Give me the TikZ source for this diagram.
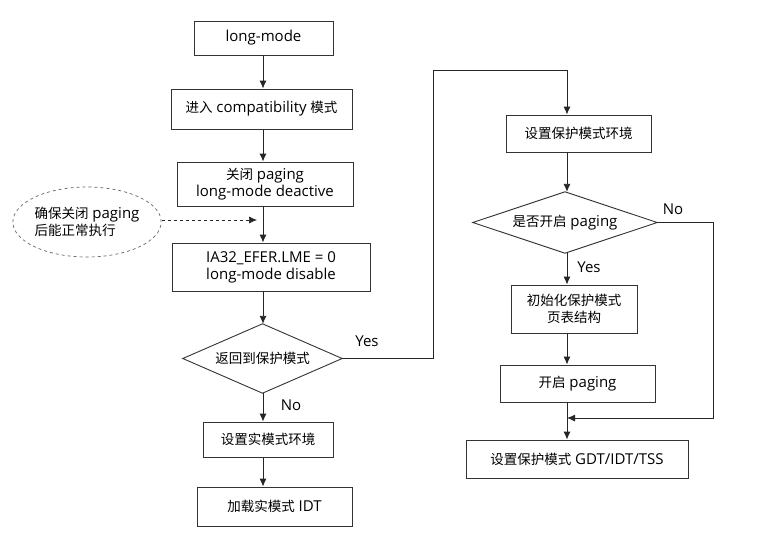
\documentclass[tikz,border=0pt]{standalone}
\usepackage{fontspec}
\setmainfont{Open Sans}
\newfontfamily\cjk{Noto Sans CJK SC}
\newcommand{\zh}[1]{{\cjk\fontsize{13.5}{17}\selectfont #1}}
\usetikzlibrary{shapes.geometric,arrows.meta}
\begin{document}
\begin{tikzpicture}[x=1pt,y=-1pt,
  every node/.style={font=\fontsize{15}{17}\selectfont, text=black},
  box/.style={draw=black!80, line width=0.9pt, rectangle, inner sep=0pt, align=center},
  dia/.style={rectangle, inner sep=0pt, align=center},
  dline/.style={draw=black!80, line width=0.9pt},
  arr/.style={draw=black!85, line width=0.9pt, -{Latex[length=8pt,width=7pt]}},
  lbl/.style={inner sep=0pt}]
\useasboundingbox (0,0) rectangle (761,538);
\fill[white] (0,0) rectangle (761,538);
\coordinate (L) at (263,0);
\coordinate (R) at (567,0);
\node[box, minimum width=139pt, minimum height=34pt] (b1) at (263.5,38) {long-mode};
\node[box, minimum width=181pt, minimum height=40pt] (b2) at (261.5,109) {\zh{进入} compatibility \zh{模式}};
\node[box, minimum width=176pt, minimum height=44pt] (b3) at (265,184) {\zh{关闭} paging\\long-mode deactive};
\node[box, minimum width=198pt, minimum height=48pt] (b4) at (271,267) {IA32\_EFER.LME = 0\\long-mode disable};
\node[dia, minimum width=159pt, minimum height=69pt] (d1) at (262.5,358.5) {\zh{返回到保护模式}};
\draw[dline] (d1.north) -- (d1.east) -- (d1.south) -- (d1.west) -- cycle;
\node[box, minimum width=130pt, minimum height=35pt] (b6) at (268,439.5) {\zh{设置实模式环境}};
\node[box, minimum width=155pt, minimum height=39pt] (b7) at (274.5,506.5) {\zh{加载实模式} IDT};
\node[box, minimum width=145pt, minimum height=37pt] (b5) at (578.5,133.5) {\zh{设置保护模式环境}};
\node[dia, minimum width=184pt, minimum height=61pt] (d2) at (565,222.5) {\zh{是否开启} paging};
\draw[dline] (d2.north) -- (d2.east) -- (d2.south) -- (d2.west) -- cycle;
\node[box, minimum width=126pt, minimum height=48pt] (b8) at (574,309) {\zh{初始化保护模式}\\\zh{页表结构}};
\node[box, minimum width=155pt, minimum height=37pt] (b9) at (577.5,383.5) {\zh{开启} paging};
\node[box, minimum width=222pt, minimum height=38pt] (b10) at (577,459) {\zh{设置保护模式} GDT/IDT/TSS};
\node[draw=black!60, dashed, line width=0.7pt, ellipse, minimum width=144pt, minimum height=70pt, inner sep=0pt, align=left] (e1) at (87,222) {\zh{确保关闭} paging\\\zh{后能正常执行}};
\coordinate (ea) at (257,220);
\draw[arr, dashed, line width=0.7pt] (e1.east |- ea) -- (ea);
\draw[arr] (b1.south -| L) -- (b2.north -| L);
\draw[arr] (b2.south -| L) -- (b3.north -| L);
\draw[arr] (b3.south -| L) -- (b4.north -| L);
\draw[arr] (b4.south -| L) -- (d1.north -| L);
\draw[arr] (d1.south -| L) -- (b6.north -| L);
\draw[arr] (b6.south -| L) -- (b7.north -| L);
\coordinate (c1) at (433,70);
\draw[arr] (d1.east) -| (c1) -| (b5.north -| R);
\draw[arr] (b5.south -| R) -- (d2.north -| R);
\draw[arr] (d2.south -| R) -- (b8.north -| R);
\draw[arr] (b8.south -| R) -- (b9.north -| R);
\draw[arr] (b9.south -| R) -- (b10.north -| R);
\coordinate (c2) at (713,418);
\draw[arr] (d2.east) -| (c2) -- (c2 -| R);
\node[lbl] (y1) at (367,341) {Yes};
\node[lbl] (n1) at (291,405) {No};
\node[lbl] (n2) at (673,209) {No};
\node[lbl] (y2) at (589,267) {Yes};
\end{tikzpicture}
\end{document}
